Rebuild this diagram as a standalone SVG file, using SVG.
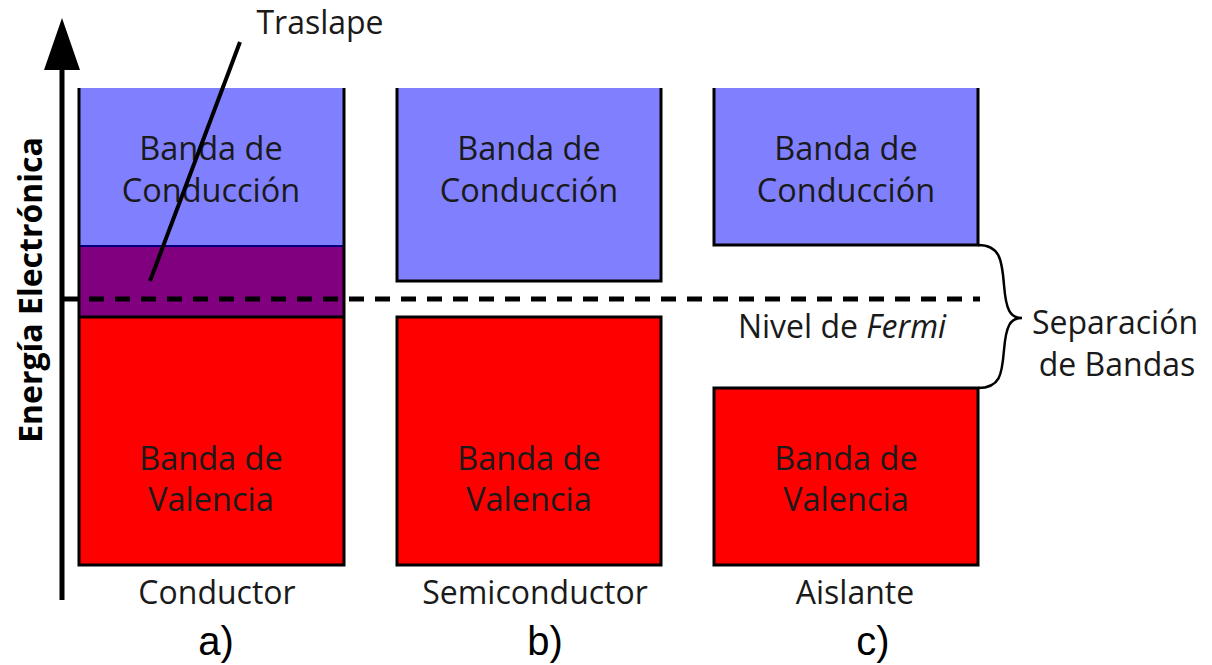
<svg xmlns="http://www.w3.org/2000/svg" width="1212" height="665" viewBox="0 0 1212 665">
<style>
.t{font-family:"Open Sans","Noto Sans",sans-serif;font-size:32.5px;fill:#1a1a1a;text-anchor:middle}
.s{font-size:32px}
.ed{stroke:#000;stroke-width:3;fill:none}
.red{fill:#FF0000;stroke:#000;stroke-width:3}
.lb{font-family:"Liberation Sans",Arial,sans-serif;font-size:40px;fill:#000;text-anchor:middle}
</style>
<rect width="1212" height="665" fill="#fff"/>
<g id="conductor">
<rect x="79" y="88" width="265" height="158" fill="#8080FF"/>
<rect x="79" y="246" width="265" height="71" fill="#800080"/>
<rect x="79" y="317" width="265" height="248" fill="#FF0000"/>
<line x1="79" y1="246" x2="344" y2="246" stroke="#000080" stroke-width="2"/>
<line x1="79" y1="317" x2="344" y2="317" stroke="#000" stroke-width="3"/>
<path class="ed" d="M79,88 V565 H344 V88"/>
<text class="t" x="211" y="160">Banda de</text>
<text class="t" x="211" y="202">Conducción</text>
<text class="t" x="211" y="470">Banda de</text>
<text class="t" x="211" y="511">Valencia</text>
</g>
<g id="semiconductor">
<rect x="397" y="88" width="264" height="193" fill="#8080FF"/>
<path class="ed" d="M397,88 V281 H661 V88"/>
<rect x="397" y="317" width="264" height="248" class="red"/>
<text class="t" x="529" y="160">Banda de</text>
<text class="t" x="529" y="202">Conducción</text>
<text class="t" x="529" y="470">Banda de</text>
<text class="t" x="529" y="511">Valencia</text>
</g>
<g id="aislante">
<rect x="714" y="88" width="264" height="157" fill="#8080FF"/>
<path class="ed" d="M714,88 V245 H978 V88"/>
<rect x="714" y="388" width="264" height="177" class="red"/>
<text class="t" x="846" y="160">Banda de</text>
<text class="t" x="846" y="202">Conducción</text>
<text class="t" x="846" y="470">Banda de</text>
<text class="t" x="846" y="511">Valencia</text>
</g>
<g id="connectors">
<line x1="62" y1="600" x2="62" y2="60" stroke="#000" stroke-width="5"/>
<polygon points="62,18 44,70 80,70" fill="#000"/>
<line x1="62" y1="299" x2="80" y2="299" stroke="#000" stroke-width="5"/>
<line x1="89" y1="299" x2="980" y2="299" stroke="#000" stroke-width="5" stroke-dasharray="15 11"/>
<line x1="240" y1="42" x2="150" y2="281" stroke="#000" stroke-width="4"/>
<path d="M978,245 C1000,245 1002,260 1004,285 C1006,310 1010,318 1022,318 C1010,318 1006,326 1004,350 C1002,375 1000,388 978,388" fill="none" stroke="#000" stroke-width="2.5"/>
</g>
<g id="labels">
<text class="t s" x="320" y="34">Traslape</text>
<text class="t s" x="842" y="338">Nivel de <tspan font-style="italic">Fermi</tspan></text>
<text class="t s" x="1115" y="334">Separación</text>
<text class="t s" x="1117" y="376">de Bandas</text>
<text transform="translate(42,290) rotate(-90)" font-family="'Open Sans','Noto Sans',sans-serif" font-weight="bold" font-size="32" text-anchor="middle" fill="#000">Energía Electrónica</text>
<text class="t s" x="217" y="604">Conductor</text>
<text class="t s" x="535" y="604">Semiconductor</text>
<text class="t s" x="855" y="604">Aislante</text>
<text class="lb" x="216" y="655">a)</text>
<text class="lb" x="545" y="655">b)</text>
<text class="lb" x="873" y="655">c)</text>
</g>
</svg>
